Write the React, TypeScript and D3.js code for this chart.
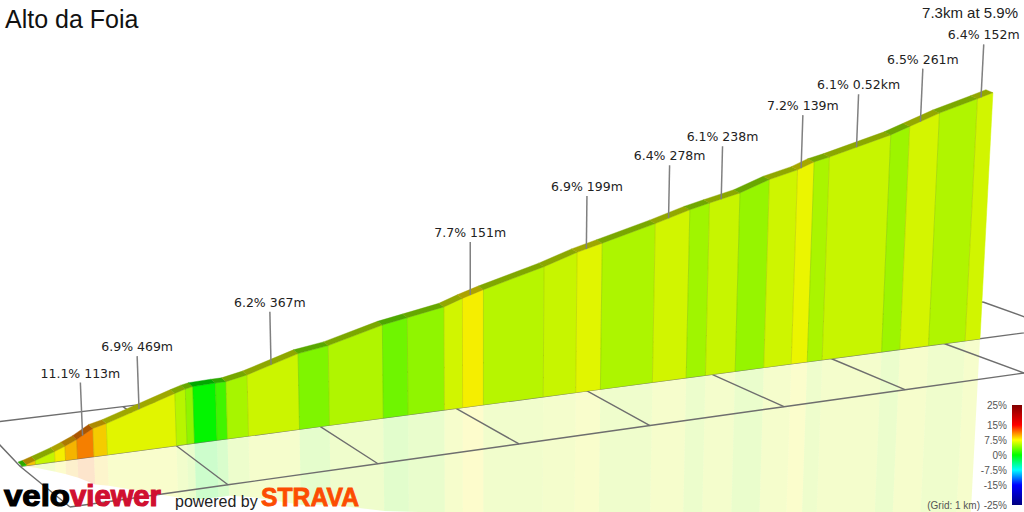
import * as d3 from "d3"

// Climb: boundaries of the coloured segments
const boundaryKm = [
  0, 0.03, 0.09, 0.22, 0.29, 0.37, 0.48, 0.57, 1.03, 1.1, 1.15, 1.3, 1.37, 1.51, 1.85, 2.05, 2.41, 2.6, 2.88, 3.02,
  3.18, 3.64, 3.89, 4.08, 4.48, 4.74, 4.9, 5.16, 5.41, 5.65, 5.79, 5.92, 6.44, 6.6, 6.85, 7.17, 7.3,
]
const boundaryElev = [
  0, 1.5, 5.4, 14.8, 20.7, 28.2, 41.6, 46.2, 78.3, 83, 85.2, 86.4, 86.5, 92.8, 115.8, 122.5, 144.4, 151.3, 161.7,
  171.9, 182, 208, 225.4, 236, 259, 276, 284, 296, 314, 326, 337, 343, 372, 384, 403, 423, 431.6,
]
const segmentGrade = [
  2, 9, 6, 7.7, 9.5, 11.1, 8.8, 6.9, 5.6, 4.4, 0.1, 2, 5.1, 6.2, 3.9, 5.4, 3.4, 4.4, 6.4, 7.7, 5.6, 6.1, 6.9, 5.3,
  6.4, 4.9, 6.1, 4.6, 6.3, 7.2, 5.2, 6.1, 4.8, 6.5, 5.4, 6.4,
]

// Callouts
const calloutText = [
  "11.1% 113m", "6.9% 469m", "6.2% 367m", "7.7% 151m", "6.9% 199m", "6.4% 278m",
  "6.1% 238m", "7.2% 139m", "6.1% 0.52km", "6.5% 261m", "6.4% 152m",
]
const calloutKm = [0.41, 0.79, 1.67, 3.08, 3.96, 4.58, 5.0, 5.68, 6.15, 6.69, 7.2]

// Colour key
const legendTicks = [25, 15, 7.5, 0, -7.5, -15, -25]
const gradeStops = [-25, -15, -7.5, 0, 7.5, 15, 25]
const wallColors = ["#000078", "#0000f5", "#00f5f5", "#00f500", "#f5f500", "#f50000", "#780000"]
const keyColors = ["#000080", "#0000ff", "#00ffff", "#00ff00", "#ffff00", "#ff0000", "#800000"]

// Ground grid, 1 km squares
const gridIndex = [-1, 0, 1, 2, 3, 4, 5, 6, 7]

const width = 1024
const height = 512

// distance along the wall foot, compressed by the perspective
const xKm = d3.scaleLinear().domain([0, 2.4, 4.8, 7.3]).range([22, 382, 694, 980])
const footY = d3.scaleLinear().domain([22, 980]).range([466, 338.7])
const pxPerMetre = d3.scaleLinear().domain([0, 7.3]).range([0.68, 0.57])
const leanAt = d3.scaleLinear().domain([480, 980]).range([0, 0.0525])
const ridgeDx = d3.scaleLinear().domain([0, 7.3]).range([-4, -7])
const ridgeDy = d3.scaleLinear().domain([0, 7.3]).range([-4, -3])
const elevAt = d3.scaleLinear().domain(boundaryKm).range(boundaryElev)
const wallColor = d3.scaleLinear<string>().domain(gradeStops).range(wallColors)
const keyY = d3.scaleLinear().domain([25, -25]).range([405, 505])

// grid rows: behind the wall, under it, in front of it
const backX = d3.scaleLinear().domain([-1, 0, 7]).range([-20, 123, 983])
const backY = d3.scaleLinear().domain([-20, 983]).range([424, 302])
const midX = d3.scaleLinear().domain(gridIndex).range([20, 176, 320, 456, 587, 712, 831, 944, 1057])
const frontX = d3.scaleLinear().domain(gridIndex).range([70, 228, 378, 519, 650, 784, 905, 1024, 1142])
const frontY = d3.scaleLinear().domain([70, 1024]).range([507, 373])

const gridRows = [
  (u: number) => [backX(u), backY(backX(u))] as [number, number],
  (u: number) => [midX(u), footY(midX(u))] as [number, number],
  (u: number) => [frontX(u), frontY(frontX(u))] as [number, number],
]

const poly = (pts: [number, number][]) => d3.line()(pts) + "Z"

// point on the wall at a height, leaning towards the vanishing point
function wallPoint(km: number, h: number): [number, number] {
  const x = xKm(km)
  return [x + leanAt(x) * h, footY(x) - h]
}
const heightAt = (km: number) => elevAt(km) * pxPerMetre(km)
const topPoint = (km: number) => wallPoint(km, heightAt(km))
const footPoint = (km: number) => wallPoint(km, 0)
const mirrorPoint = (km: number) => wallPoint(km, -heightAt(km))

const segments = d3.pairs(boundaryKm).map(([a, b], i) => ({ a, b, color: wallColor(segmentGrade[i]) }))

function ridgeColor(c: string) {
  const rgb = d3.rgb(c)
  return d3.rgb(rgb.r * 0.7, rgb.g * 0.68, rgb.b * 0.63).formatHex()
}

const labelFont = "'DejaVu Sans', Verdana, sans-serif"
const arial = "'Liberation Sans', Arial, sans-serif"

export default function App() {
  return (
    <svg
      width={width}
      height={height}
      viewBox={`0 0 ${width} ${height}`}
      style={{ position: "absolute", left: 0, top: 0, background: "#fff" }}
    >
      <defs>
        <linearGradient id="grade-key" x1="0" y1="0" x2="0" y2="1">
          {gradeStops
            .map((g, i) => ({ g, c: keyColors[i] }))
            .reverse()
            .map(({ g, c }) => (
              <stop key={g} offset={(25 - g) / 50} stopColor={c} />
            ))}
        </linearGradient>
      </defs>

      {/* reflection on the ground */}
      <g>
        {segments.map((s, i) => (
          <path
            key={i}
            d={poly([footPoint(s.a), footPoint(s.b), mirrorPoint(s.b), mirrorPoint(s.a)])}
            fill={s.color}
            fillOpacity={0.2}
          />
        ))}
      </g>

      {/* grid */}
      <g stroke="#6e6e6e" strokeWidth={1.4} fill="none">
        {gridRows.map((row, r) => (
          <path key={r} d={d3.line()(gridIndex.map(row)) as string} />
        ))}
        {gridIndex.map((u) => (
          <path key={u} d={d3.line()(gridRows.map((row) => row(u))) as string} />
        ))}
      </g>

      {/* wall */}
      <g>
        {segments.map((s, i) => (
          <path
            key={i}
            d={poly([footPoint(s.a), footPoint(s.b), topPoint(s.b), topPoint(s.a)])}
            fill={s.color}
            stroke={s.color}
            strokeWidth={0.5}
          />
        ))}
        {boundaryKm.slice(1, -1).map((km) => (
          <path key={km} d={d3.line()([footPoint(km), topPoint(km)]) as string} stroke="#6f8a00" strokeOpacity={0.22} />
        ))}
      </g>

      {/* road strip on top of the wall */}
      <g>
        {segments.map((s, i) => {
          const [ax, ay] = topPoint(s.a)
          const [bx, by] = topPoint(s.b)
          return (
            <path
              key={i}
              d={poly([
                [ax, ay],
                [bx, by],
                [bx + ridgeDx(s.b), by + ridgeDy(s.b)],
                [ax + ridgeDx(s.a), ay + ridgeDy(s.a)],
              ])}
              fill={ridgeColor(s.color)}
              stroke={ridgeColor(s.color)}
              strokeWidth={0.4}
            />
          )
        })}
      </g>

      {/* callouts */}
      <g>
        {calloutKm.map((km, i) => {
          const [x, y] = topPoint(km)
          const rise = 53
          const tx = x + leanAt(xKm(km)) * rise
          return (
            <g key={km}>
              <line x1={x} y1={y} x2={tx} y2={y - rise} stroke="#808080" strokeWidth={1.5} />
              <text x={tx} y={y - rise - 5} textAnchor="middle" fontFamily={labelFont} fontSize={12.5} fill="#222">
                {calloutText[i]}
              </text>
            </g>
          )
        })}
      </g>

      {/* titles */}
      <text x={5} y={28} fontFamily={arial} fontSize={25} fill="#111">
        Alto da Foia
      </text>
      <text x={1018} y={18} textAnchor="end" fontFamily={arial} fontSize={15} fill="#222">
        7.3km at 5.9%
      </text>

      {/* colour key */}
      <rect x={1012} y={keyY(25)} width={10} height={keyY(-25) - keyY(25)} fill="url(#grade-key)" />
      <g fontFamily={arial} fontSize={10} fill="#555" textAnchor="end">
        {legendTicks.map((t) => (
          <text key={t} x={1007} y={keyY(t) + 3.5}>
            {t}%
          </text>
        ))}
        <text x={980} y={keyY(-25) + 3.5}>
          (Grid: 1 km)
        </text>
      </g>

      {/* brand marks */}
      <g fontFamily={arial} fontWeight="bold">
        <text x={4} y={505.5} fontSize={30} textLength={66} lengthAdjust="spacingAndGlyphs" fill="#000" stroke="#000" strokeWidth={1.2}>
          velo
        </text>
        <text x={70} y={505.5} fontSize={30} textLength={91} lengthAdjust="spacingAndGlyphs" fill="#d01030" stroke="#d01030" strokeWidth={1.2}>
          viewer
        </text>
        <text x={261} y={506} fontSize={26} textLength={98} lengthAdjust="spacingAndGlyphs" fill="#fc4c02" stroke="#fc4c02" strokeWidth={0.8}>
          STRAVA
        </text>
      </g>
      <text x={175} y={507} fontFamily={arial} fontSize={16} fill="#222">
        powered by
      </text>
    </svg>
  )
}
